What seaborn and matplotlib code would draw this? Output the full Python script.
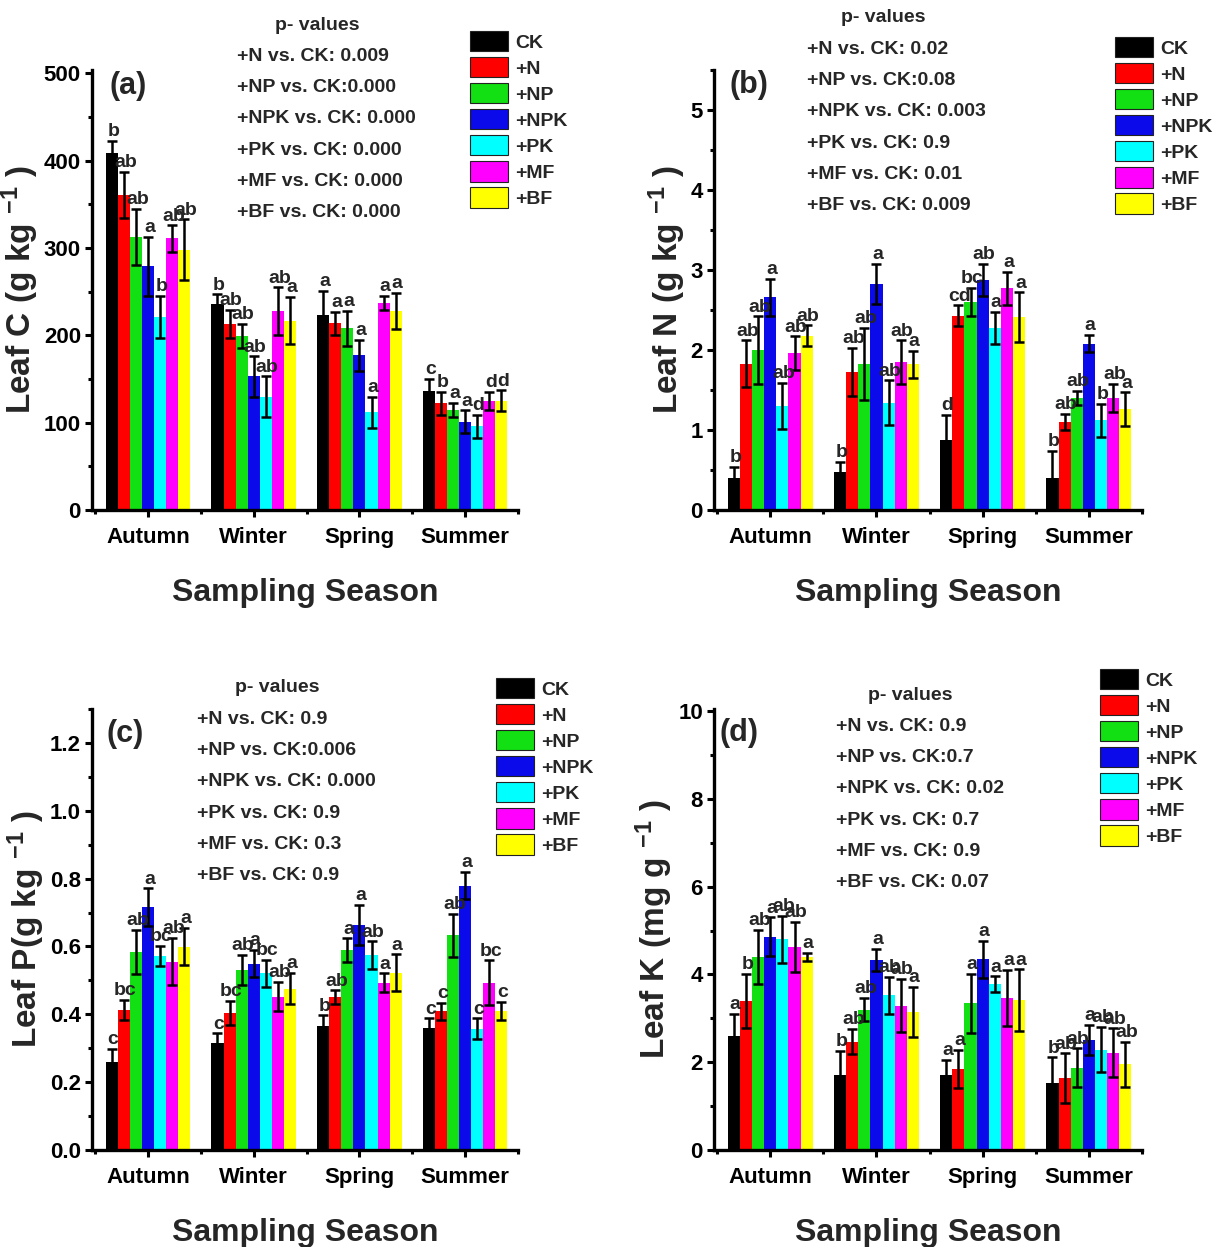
import numpy as np
import pandas as pd
import seaborn as sns
import matplotlib.pyplot as plt
import matplotlib.patches as mpatches
from matplotlib import font_manager
from matplotlib.ticker import MultipleLocator

seasons = ['Autumn', 'Winter', 'Spring', 'Summer']
treatments = ['CK', '+N', '+NP', '+NPK', '+PK', '+MF', '+BF']
colors = ['#000000', '#FF0000', '#12E012', '#0A0AEB', '#00FFFF', '#FF00FF', '#FFFF00']

# rows = season, columns = treatment (CK, +N, +NP, +NPK, +PK, +MF, +BF)
leaf_c = [[409, 361, 313, 279, 221, 311, 298],
          [236, 213, 199, 153, 130, 228, 217],
          [223, 214, 208, 177, 112, 237, 228],
          [136, 122, 115, 101, 96, 125, 125]]
leaf_c_err = [[14, 26, 32, 34, 24, 15, 35],
              [11, 16, 14, 23, 23, 27, 27],
              [28, 13, 20, 18, 18, 8, 21],
              [14, 13, 8, 13, 13, 10, 12]]
leaf_c_sig = [['b', 'ab', 'ab', 'a', 'b', 'ab', 'ab'],
              ['b', 'ab', 'ab', 'ab', 'ab', 'ab', 'a'],
              ['a', 'a', 'a', 'a', 'a', 'a', 'a'],
              ['c', 'b', 'a', 'a', 'd', 'd', 'd']]

leaf_n = [[0.40, 1.83, 2.00, 2.66, 1.30, 1.96, 2.18],
          [0.48, 1.73, 1.83, 2.83, 1.34, 1.85, 1.82],
          [0.88, 2.43, 2.60, 2.88, 2.28, 2.77, 2.41],
          [0.40, 1.10, 1.40, 2.08, 1.12, 1.40, 1.26]]
leaf_n_err = [[0.14, 0.29, 0.42, 0.23, 0.29, 0.21, 0.13],
              [0.12, 0.30, 0.45, 0.25, 0.28, 0.27, 0.17],
              [0.31, 0.13, 0.18, 0.20, 0.20, 0.21, 0.31],
              [0.34, 0.10, 0.09, 0.11, 0.21, 0.18, 0.21]]
leaf_n_sig = [['b', 'ab', 'ab', 'a', 'ab', 'ab', 'ab'],
              ['b', 'ab', 'ab', 'a', 'ab', 'ab', 'a'],
              ['d', 'cd', 'bc', 'ab', 'a', 'a', 'a'],
              ['b', 'ab', 'ab', 'a', 'b', 'ab', 'a']]

leaf_p = [[0.258, 0.412, 0.584, 0.715, 0.572, 0.555, 0.599],
          [0.316, 0.404, 0.530, 0.549, 0.521, 0.452, 0.476],
          [0.367, 0.451, 0.589, 0.663, 0.575, 0.493, 0.523],
          [0.360, 0.409, 0.633, 0.779, 0.358, 0.493, 0.409]]
leaf_p_err = [[0.040, 0.030, 0.064, 0.056, 0.030, 0.070, 0.055],
              [0.028, 0.035, 0.045, 0.040, 0.040, 0.043, 0.047],
              [0.030, 0.020, 0.035, 0.060, 0.040, 0.028, 0.054],
              [0.028, 0.025, 0.064, 0.040, 0.030, 0.066, 0.027]]
leaf_p_sig = [['c', 'bc', 'ab', 'a', 'bc', 'ab', 'a'],
              ['c', 'bc', 'ab', 'a', 'bc', 'ab', 'a'],
              ['b', 'ab', 'a', 'a', 'ab', 'a', 'a'],
              ['c', 'c', 'ab', 'a', 'c', 'bc', 'c']]

leaf_k = [[2.60, 3.40, 4.40, 4.86, 4.80, 4.63, 4.40],
          [1.71, 2.47, 3.20, 4.33, 3.53, 3.29, 3.15],
          [1.71, 1.85, 3.34, 4.35, 3.78, 3.46, 3.42],
          [1.52, 1.63, 1.88, 2.51, 2.29, 2.22, 1.95]]
leaf_k_err = [[0.51, 0.62, 0.61, 0.44, 0.53, 0.57, 0.09],
              [0.55, 0.29, 0.27, 0.26, 0.42, 0.61, 0.57],
              [0.34, 0.43, 0.68, 0.42, 0.18, 0.64, 0.70],
              [0.59, 0.57, 0.44, 0.34, 0.52, 0.55, 0.52]]
leaf_k_sig = [['a', 'b', 'ab', 'a', 'ab', 'ab', 'a'],
              ['b', 'ab', 'ab', 'a', 'ab', 'ab', 'a'],
              ['a', 'a', 'a', 'a', 'a', 'a', 'a'],
              ['b', 'ab', 'ab', 'a', 'ab', 'ab', 'ab']]

pvals_c = ['+N vs. CK: 0.009', '+NP vs. CK:0.000', '+NPK vs. CK: 0.000',
           '+PK vs. CK: 0.000', '+MF vs. CK: 0.000', '+BF vs. CK: 0.000']
pvals_n = ['+N vs. CK: 0.02', '+NP vs. CK:0.08', '+NPK vs. CK: 0.003',
           '+PK vs. CK: 0.9', '+MF vs. CK: 0.01', '+BF vs. CK: 0.009']
pvals_p = ['+N vs. CK: 0.9', '+NP vs. CK:0.006', '+NPK vs. CK: 0.000',
           '+PK vs. CK: 0.9', '+MF vs. CK: 0.3', '+BF vs. CK: 0.9']
pvals_k = ['+N vs. CK: 0.9', '+NP vs. CK:0.7', '+NPK vs. CK: 0.02',
           '+PK vs. CK: 0.7', '+MF vs. CK: 0.9', '+BF vs. CK: 0.07']

# the original uses a condensed bold face; take the narrow Liberation cut if it is there
installed = {f.name for f in font_manager.fontManager.ttflist}
narrow = 'Liberation Sans Narrow' in installed
face = 'Liberation Sans Narrow' if narrow else 'Liberation Sans'
if narrow:
    fs = dict(tick=19, ytick=17, xlabel=26, ylabel=26, tag=25, sig=16, pval=16, leg=16)
else:
    fs = dict(tick=16, ytick=16, xlabel=23, ylabel=24, tag=22, sig=14, pval=14, leg=14)

sns.set_style('ticks')
plt.rcParams['font.family'] = [face, 'DejaVu Sans']
plt.rcParams['font.weight'] = 'bold'
plt.rcParams['mathtext.fontset'] = 'custom'
plt.rcParams['mathtext.rm'] = face + ':bold'
plt.rcParams['mathtext.bf'] = face + ':bold'
plt.rcParams['mathtext.default'] = 'bf'
plt.rcParams['axes.edgecolor'] = 'black'
plt.rcParams['xtick.color'] = 'black'
plt.rcParams['ytick.color'] = 'black'

W, H = 1213, 1247
fig = plt.figure(figsize=(W / 100, H / 100), dpi=100)

panels = [
    # tag, means, errs, letters, ylabel, ytop, major, minor, fmt, axes box (px), pvals, pval pos, legend pos, tag pos
    ('(a)', leaf_c, leaf_c_err, leaf_c_sig, 'Leaf C (g kg $^{-1}$ )', 504, 100, 50, '{:.0f}',
     (92, 70, 426, 440), pvals_c, (317, 237, 25), (470, 31), (0.042, 0.963)),
    ('(b)', leaf_n, leaf_n_err, leaf_n_sig, 'Leaf N (g kg $^{-1}$ )', 5.5, 1, 0.5, '{:.0f}',
     (714, 70, 428, 440), pvals_n, (883, 807, 18), (1115, 37), (0.037, 0.966)),
    ('(c)', leaf_p, leaf_p_err, leaf_p_sig, 'Leaf P(g kg $^{-1}$ )', 1.3, 0.2, 0.1, '{:.1f}',
     (92, 709, 426, 441), pvals_p, (277, 197, 688), (496, 678), (0.035, 0.943)),
    ('(d)', leaf_k, leaf_k_err, leaf_k_sig, 'Leaf K (mg g $^{-1}$ )', 10.05, 2, 1, '{:.0f}',
     (714, 709, 428, 441), pvals_k, (910, 836, 695), (1100, 669), (0.014, 0.946)),
]

legend_handles = [mpatches.Patch(facecolor=c, edgecolor='#222222', linewidth=0.8, label=t)
                  for c, t in zip(colors, treatments)]

for tag, means, errs, sig, ylabel, ytop, major, minor, fmt, box, pvals, ppos, lpos, tpos in panels:
    x0, y0, w, h = box
    ax = fig.add_axes([x0 / W, 1 - (y0 + h) / H, w / W, h / H])

    df = pd.DataFrame({
        'Season': np.repeat(seasons, len(treatments)),
        'Treatment': treatments * len(seasons),
        'Value': np.array(means).ravel(),
    })
    sns.barplot(data=df, x='Season', y='Value', hue='Treatment',
                order=seasons, hue_order=treatments, palette=colors,
                saturation=1, errorbar=None, width=0.8, edgecolor='none',
                legend=False, ax=ax)

    # error bars and significance letters on top of each bar
    bar_containers = list(ax.containers)
    for ti, cont in enumerate(bar_containers):
        for si, bar in enumerate(cont.patches):
            xc = bar.get_x() + bar.get_width() / 2
            yv = bar.get_height()
            e = errs[si][ti]
            ax.errorbar(xc, yv, yerr=e, fmt='none', ecolor='black',
                        elinewidth=1.8, capsize=3.5, capthick=1.8)
            ax.annotate(sig[si][ti], (xc, yv + e), xytext=(1, 0.5),
                        textcoords='offset points', ha='center', va='bottom',
                        fontsize=fs['sig'], fontweight='bold')

    ax.set_xlim(-0.53, 3.5)
    ax.set_ylim(0, ytop)
    ticks = np.arange(0, ytop + 1e-9, major)
    ax.set_yticks(ticks)
    ax.set_yticklabels([fmt.format(t) for t in ticks])
    ax.yaxis.set_minor_locator(MultipleLocator(minor))
    ax.set_xticks(range(len(seasons)))
    ax.set_xticklabels(seasons)
    ax.set_xticks([-0.5, 0.5, 1.5, 2.5, 3.5], minor=True)

    sns.despine(ax=ax)
    for sp in ['left', 'bottom']:
        ax.spines[sp].set_linewidth(2.4)
    ax.tick_params(which='major', length=5, width=2.2)
    ax.tick_params(which='minor', length=3, width=2.2)
    ax.tick_params(axis='x', labelsize=fs['tick'], pad=7)
    ax.tick_params(axis='y', labelsize=fs['ytick'], pad=3)
    for lab in ax.get_xticklabels() + ax.get_yticklabels():
        lab.set_fontweight('bold')

    ax.set_xlabel('Sampling Season', fontsize=fs['xlabel'], fontweight='bold', labelpad=22)
    ax.set_ylabel(ylabel, fontsize=fs['ylabel'], fontweight='bold', labelpad=2)
    ax.text(tpos[0], tpos[1], tag, transform=ax.transAxes, ha='left', va='center',
            fontsize=fs['tag'], fontweight='bold')

    # p-values block
    cx, lx, ty = ppos
    fig.text(cx / W, 1 - ty / H, 'p- values', ha='center', va='center',
             fontsize=fs['pval'], fontweight='bold')
    for k, line in enumerate(pvals):
        fig.text(lx / W, 1 - (ty + 31.3 * (k + 1)) / H, line, ha='left', va='center',
                 fontsize=fs['pval'], fontweight='bold')

    lf = fs['leg'] * 100 / 72
    fig.legend(handles=legend_handles, loc='upper left',
               bbox_to_anchor=(lpos[0] / W, 1 - lpos[1] / H),
               frameon=False, prop={'weight': 'bold', 'size': fs['leg']},
               handlelength=38 / lf, handleheight=24 / lf, labelspacing=5.3 / lf,
               handletextpad=7 / lf, borderpad=0, borderaxespad=0)

fig.savefig('out.png', dpi=100)
